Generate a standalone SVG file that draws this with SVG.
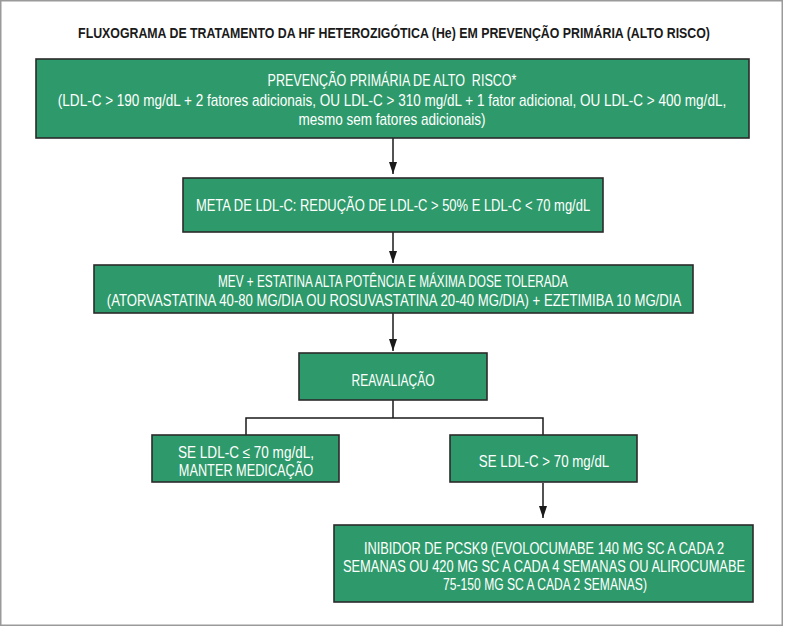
<svg xmlns="http://www.w3.org/2000/svg" width="785" height="626" viewBox="0 0 785 626">
<style>
.bg{fill:#fff}
.frame{fill:none;stroke:#9a9a9a;stroke-width:1.5}
.box{fill:#2E9A6B;stroke:#2b2b2b;stroke-width:1.6}
.t{font-family:"Liberation Sans",Arial,sans-serif;font-size:16px;fill:#fff;text-anchor:middle}
.title{font-family:"Liberation Sans",Arial,sans-serif;font-size:15px;font-weight:bold;fill:#1a1a1a;text-anchor:middle}
.ln{fill:none;stroke:#1a1a1a;stroke-width:1.5}
</style>
<defs>
<marker id="ah" viewBox="0 0 12 8" refX="12" refY="4" markerUnits="userSpaceOnUse" markerWidth="12" markerHeight="8" orient="auto">
<path d="M0,0 L12,4 L0,8 z" fill="#1a1a1a"/>
</marker>
</defs>
<rect class="bg" x="0" y="0" width="785" height="626"/>
<rect class="frame" x="0.75" y="0.75" width="781.5" height="624.5"/>
<text class="title" transform="translate(394 37.5) scale(0.81 1)" textLength="780" lengthAdjust="spacingAndGlyphs">FLUXOGRAMA DE TRATAMENTO DA HF HETEROZIGÓTICA (He) EM PREVENÇÃO PRIMÁRIA (ALTO RISCO)</text>

<g id="connectors">
<line class="ln" x1="393" y1="138" x2="393" y2="174" marker-end="url(#ah)"/>
<line class="ln" x1="393" y1="232" x2="393" y2="263" marker-end="url(#ah)"/>
<line class="ln" x1="393" y1="313" x2="393" y2="351" marker-end="url(#ah)"/>
<polyline class="ln" points="393,400 393,418"/>
<polyline class="ln" points="246,435 246,418 543,418 543,435"/>
<line class="ln" x1="543" y1="483" x2="543" y2="518" marker-end="url(#ah)"/>
</g>

<g id="n1">
<rect class="box" x="36" y="59" width="713" height="79"/>
<text class="t" transform="translate(392 86) scale(0.79 1)" textLength="315" lengthAdjust="spacingAndGlyphs" xml:space="preserve">PREVENÇÃO PRIMÁRIA DE ALTO  RISCO*</text>
<text class="t" transform="translate(392 105.5) scale(0.79 1)" textLength="846" lengthAdjust="spacingAndGlyphs">(LDL-C &gt; 190 mg/dL + 2 fatores adicionais, OU LDL-C &gt; 310 mg/dL + 1 fator adicional, OU LDL-C &gt; 400 mg/dL,</text>
<text class="t" transform="translate(392 124.5) scale(0.79 1)" textLength="237" lengthAdjust="spacingAndGlyphs">mesmo sem fatores adicionais)</text>
</g>

<g id="n2">
<rect class="box" x="183" y="178" width="420" height="54"/>
<text class="t" transform="translate(393 210.5) scale(0.79 1)" textLength="499" lengthAdjust="spacingAndGlyphs">META DE LDL-C: REDUÇÃO DE LDL-C &gt; 50% E LDL-C &lt; 70 mg/dL</text>
</g>

<g id="n3">
<rect class="box" x="94" y="265" width="599" height="48"/>
<text class="t" transform="translate(393 286.5) scale(0.79 1)" textLength="443" lengthAdjust="spacingAndGlyphs">MEV + ESTATINA ALTA POTÊNCIA E MÁXIMA DOSE TOLERADA</text>
<text class="t" transform="translate(394 305.5) scale(0.79 1)" textLength="727" lengthAdjust="spacingAndGlyphs">(ATORVASTATINA 40-80 MG/DIA OU ROSUVASTATINA 20-40 MG/DIA) + EZETIMIBA 10 MG/DIA</text>
</g>

<g id="n4">
<rect class="box" x="299" y="353" width="188" height="47"/>
<text class="t" transform="translate(393 385.5) scale(0.79 1)" textLength="105" lengthAdjust="spacingAndGlyphs">REAVALIAÇÃO</text>
</g>

<g id="n5">
<rect class="box" x="152" y="435" width="187" height="47"/>
<text class="t" transform="translate(246 457.5) scale(0.79 1)" textLength="172" lengthAdjust="spacingAndGlyphs">SE LDL-C ≤ 70 mg/dL,</text>
<text class="t" transform="translate(246 475.5) scale(0.79 1)" textLength="170" lengthAdjust="spacingAndGlyphs">MANTER MEDICAÇÃO</text>
</g>

<g id="n6">
<rect class="box" x="450" y="435" width="187" height="47"/>
<text class="t" transform="translate(544 466.5) scale(0.79 1)" textLength="165" lengthAdjust="spacingAndGlyphs">SE LDL-C &gt; 70 mg/dL</text>
</g>

<g id="n7">
<rect class="box" x="334" y="525" width="419" height="77"/>
<text class="t" transform="translate(544 553.5) scale(0.79 1)" textLength="456" lengthAdjust="spacingAndGlyphs">INIBIDOR DE PCSK9 (EVOLOCUMABE 140 MG SC A CADA 2</text>
<text class="t" transform="translate(544 571.5) scale(0.79 1)" textLength="509" lengthAdjust="spacingAndGlyphs">SEMANAS OU 420 MG SC A CADA 4 SEMANAS OU ALIROCUMABE</text>
<text class="t" transform="translate(545 589.5) scale(0.79 1)" textLength="258" lengthAdjust="spacingAndGlyphs">75-150 MG SC A CADA 2 SEMANAS)</text>
</g>
</svg>
